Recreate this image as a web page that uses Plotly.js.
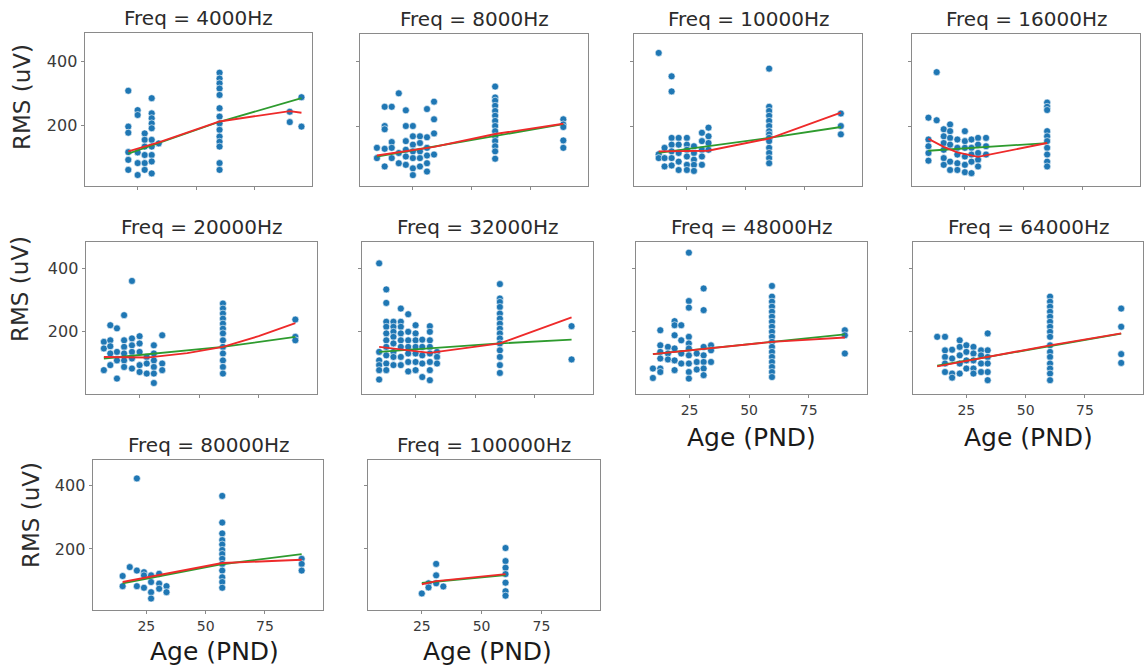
<!DOCTYPE html>
<html>
<head>
<meta charset="utf-8">
<script src="https://cdn.plot.ly/plotly-3.0.1.min.js"></script>
<style>html,body{margin:0;padding:0;background:#fff;}#chart{width:1144px;height:667px;}</style>
</head>
<body>
<div id="chart"></div>
<script>
// ---------------- DATA ----------------
const freqs = [4000, 8000, 10000, 16000, 20000, 32000, 48000, 64000, 80000, 100000];

// ages (PND) of each vertical group of points, per panel
const groupAges = [
  [21, 25, 28, 31, 34, 60, 90, 95],
  [9.7, 13, 16, 19, 22, 25, 28, 31, 34, 60, 89],
  [13, 15.5, 18.5, 21.5, 25, 28, 31.4, 34.2, 60, 90.5],
  [9.5, 13, 16, 18.7, 21.8, 25, 27.8, 30.6, 34, 60],
  [10, 12.7, 15.5, 18.5, 21.8, 25, 28, 31, 34.5, 60, 90.4],
  [9.7, 12.7, 15.7, 18.8, 21.9, 25, 27.8, 31, 34, 60.4, 90.5],
  [9.6, 12.7, 15.9, 18.7, 21.5, 24.7, 28, 30.9, 34, 59.6, 90.2],
  [12.7, 16, 19, 22.2, 25, 28, 31.2, 34, 60.3, 90.3],
  [15, 18, 21, 24, 27, 30.4, 33.5, 57, 90.5],
  [25, 27.8, 31, 34, 60]
];

// RMS (uV) values for each group above
const groupRms = [
  [[308,197,178,118,94,63],[248,233,117,84,47],[176,156,135,109,84,63],
   [285,238,223,207,192,156,135,109,89,52],[145],
   [364,346,331,315,295,254,228,207,187,166,150,135,84,63],[243,211],[288,197]],
  [[132,100],[260,200,190,129,74],[260,150,132,100],[302,116,84],[249,200,153,126,105,79],
   [200,168,142,121,100,68,47],[168,147,121,100,74],[253,165,132,108,84,58],[276,221,177,111],
   [323,289,279,263,247,232,216,200,184,168,153,137,121,98],[221,205,197,155,132]],
  [[428,112,100],[132,100,74],[355,308,163,142,121,100,77],[163,142,116,89,63],
   [163,142,126,105,79,63],[137,116,95,79,60],[179,153,126,105,79],[195,168,147,126],
   [379,260,247,232,216,200,184,174,163,153,132,116,100,84],[239,200,174]],
  [[226,158,137,116,92],[368,218],[190,168,147,126,100,79],[205,184,163,142,89,63],
   [158,132,111,84,63],[184,153,132,105,79,56],[158,132,111,89,53],[163,142,116,95,74],
   [163,137,111],[273,260,250,184,168,153,132,111,89,74]],
  [[166,145,76],[219,171,152,129,92],[209,134,107,49],[251,171,150,129,107,86],
   [360,177,155,134,113,81],[184,161,134,92,70],[118,97,65],[155,129,107,86,65,35],
   [187,97,76],[288,272,256,240,224,208,193,171,150,129,107,86,65],[237,182,171]],
  [[416,134,107,92,76,46],[333,290,230,214,193,171,150,123,97,76],[230,214,198,182,161,134,118,92],
   [272,230,214,193,171,150,118,92],[254,198,171,150,129,102,72],[219,193,171,150,129,102,76],
   [173,150,123,97,54],[216,198,171,150,129,102,76,44],[134,118,97],
   [350,304,293,277,256,240,224,208,193,177,161,139,118,92,67],[216,110]],
  [[81,51],[203,155,134,113,81,70],[150,129,110],[232,219,187,145,107,76],[219,171,129,97],
   [450,296,275,182,161,145,123,97,70,49],[129,102,78],[336,267,150,123,102,81,60],[155,139,102],
   [344,310,294,278,262,246,230,214,198,182,166,150,134,118,102,86,70,54],[203,187,129]],
  [[182],[182,139,118,97,70],[141,113,65,52],[171,150,123,97,65],[155,134,107,81],
   [150,129,107,81,65],[139,123,97,70],[193,139,118,97,70,44],
   [310,294,278,262,246,230,214,198,182,155,134,118,97,81,65,44],[272,214,127,99]],
  [[115,83],[143],[422,132,83],[127,117,78],[117,96,64,44],[122,91,75],[83,64],
   [367,283,249,228,214,197,184,169,153,132,111,96,78],[169,153,132]],
  [[60],[92,79],[153,117,92],[82],[203,162,141,121,94,67,53]]
];

// red fit line
const redAges = [
  [21, 34, 60, 90, 95],
  [9.7, 34, 60, 89],
  [13, 34, 60, 90.5],
  [9.5, 16, 21.8, 30.6, 60],
  [10, 28, 45, 60, 75, 90.4],
  [9.7, 31, 60.4, 90.5],
  [9.6, 59.6, 90.2],
  [12.7, 34, 60.3, 90.3],
  [15, 57, 90.5],
  [25, 31, 60]
];
const redRms = [
  [120, 148, 213, 245, 240],
  [108, 135, 175, 207],
  [121, 123, 161, 242],
  [160, 135, 118, 104, 147],
  [118, 116, 130, 150, 184, 226],
  [150, 131, 161, 244],
  [127, 166, 180],
  [88, 118, 155, 193],
  [96, 156, 166],
  [89, 99, 121]
];

// green fit line
const greenAges = [
  [21, 60, 95],
  [9.7, 89],
  [13, 60, 90.5],
  [9.5, 60],
  [10, 60, 90.4],
  [9.7, 60.4, 90.5],
  [9.6, 90.2],
  [12.7, 90.3],
  [15, 57, 90.5],
  [25, 60]
];
const greenRms = [
  [113, 212, 285],
  [105, 206],
  [116, 163, 197],
  [123, 147],
  [113, 150, 182],
  [134, 161, 173],
  [127, 190],
  [90, 192],
  [92, 152, 184],
  [93, 118]
];

const xTicks = [25, 50, 75];
const yTicks = [200, 400];

// ---------------- LAYOUT GEOMETRY (pixels) ----------------
const W = 1144, H = 667;
const boxes = [
  [85, 312, 33, 186], [360, 588, 34, 186], [634, 862, 34, 186], [912, 1140, 34, 186],
  [86, 317, 242, 394], [362, 593, 242, 394], [636, 867, 242, 394], [913, 1143, 242, 394],
  [93, 323, 460, 610], [368, 600, 460, 610]
];
const rowOf = [0,0,0,0,1,1,1,1,2,2];
const yRanges = [[13, 487], [0, 484], [8, 480]];
const xRange = [2.5, 99.5];
const showYLabels = [true,false,false,false,true,false,false,false,true,false];
const showXLabels = [false,false,false,false,false,false,true,true,true,true];

const traces = [];
const layout = {
  width: W, height: H,
  margin: {l: 0, r: 0, t: 0, b: 0},
  paper_bgcolor: '#ffffff', plot_bgcolor: '#ffffff',
  showlegend: false,
  font: {family: 'DejaVu Sans, sans-serif', color: '#262626'},
  annotations: []
};

const fx = px => px / W;
const fy = py => 1 - py / H;

for (let i = 0; i < 10; i++) {
  const k = i === 0 ? '' : String(i + 1);
  const xa = 'x' + k, ya = 'y' + k;
  const b = boxes[i];
  const xs = [], ys = [];
  groupAges[i].forEach((a, g) => groupRms[i][g].forEach(v => { xs.push(a); ys.push(v); }));
  traces.push({
    type: 'scatter', mode: 'markers', x: xs, y: ys, xaxis: xa, yaxis: ya,
    marker: {color: '#1f77b4', size: 7, line: {color: '#ffffff', width: 0.6}},
    hoverinfo: 'x+y'
  });
  traces.push({
    type: 'scatter', mode: 'lines', x: greenAges[i], y: greenRms[i], xaxis: xa, yaxis: ya,
    line: {color: '#2e9b2e', width: 1.8}
  });
  traces.push({
    type: 'scatter', mode: 'lines', x: redAges[i], y: redRms[i], xaxis: xa, yaxis: ya,
    line: {color: '#ee2a2a', width: 1.9}
  });

  const common = {
    showline: true, mirror: true, linecolor: '#8a8a8a', linewidth: 1.4,
    ticks: 'outside', ticklen: 3, tickwidth: 1, tickcolor: '#8a8a8a',
    showgrid: false, zeroline: false, fixedrange: true
  };
  layout['xaxis' + k] = Object.assign({}, common, {
    domain: [fx(b[0]), fx(b[1])], anchor: ya, range: xRange,
    tickvals: xTicks, ticktext: xTicks.map(String), showticklabels: showXLabels[i],
    tickfont: {size: 14, color: '#3a3a3a', family: 'DejaVu Sans, sans-serif'}
  });
  layout['yaxis' + k] = Object.assign({}, common, {
    domain: [fy(b[3]), fy(b[2])], anchor: xa, range: yRanges[rowOf[i]],
    tickvals: yTicks, ticktext: yTicks.map(String), showticklabels: showYLabels[i],
    tickfont: {size: 16, color: '#3a3a3a', family: 'DejaVu Sans, sans-serif'}
  });

  layout.annotations.push({
    text: 'Freq = ' + freqs[i] + 'Hz', xref: 'paper', yref: 'paper',
    x: fx((b[0] + b[1]) / 2), y: fy(b[2] - 15), xanchor: 'center', yanchor: 'middle',
    showarrow: false, font: {size: 20, color: '#2b2b2b', family: 'DejaVu Sans, sans-serif'}
  });
}

// axis titles
const yTitlePos = [[22, 97], [20, 289], [31, 515]];
yTitlePos.forEach(p => layout.annotations.push({
  text: 'RMS (uV)', xref: 'paper', yref: 'paper', x: fx(p[0]), y: fy(p[1]),
  xanchor: 'center', yanchor: 'middle', textangle: -90, showarrow: false,
  font: {size: 23, color: '#2b2b2b', family: 'DejaVu Sans, sans-serif'}
}));
const xTitlePos = [[752, 437], [1028, 437], [214, 651], [487, 651]];
xTitlePos.forEach(p => layout.annotations.push({
  text: 'Age (PND)', xref: 'paper', yref: 'paper', x: fx(p[0]), y: fy(p[1]),
  xanchor: 'center', yanchor: 'middle', showarrow: false,
  font: {size: 25, color: '#1a1a1a', family: 'DejaVu Sans, sans-serif'}
}));

Plotly.newPlot('chart', traces, layout, {staticPlot: true, displayModeBar: false});
</script>
</body>
</html>
